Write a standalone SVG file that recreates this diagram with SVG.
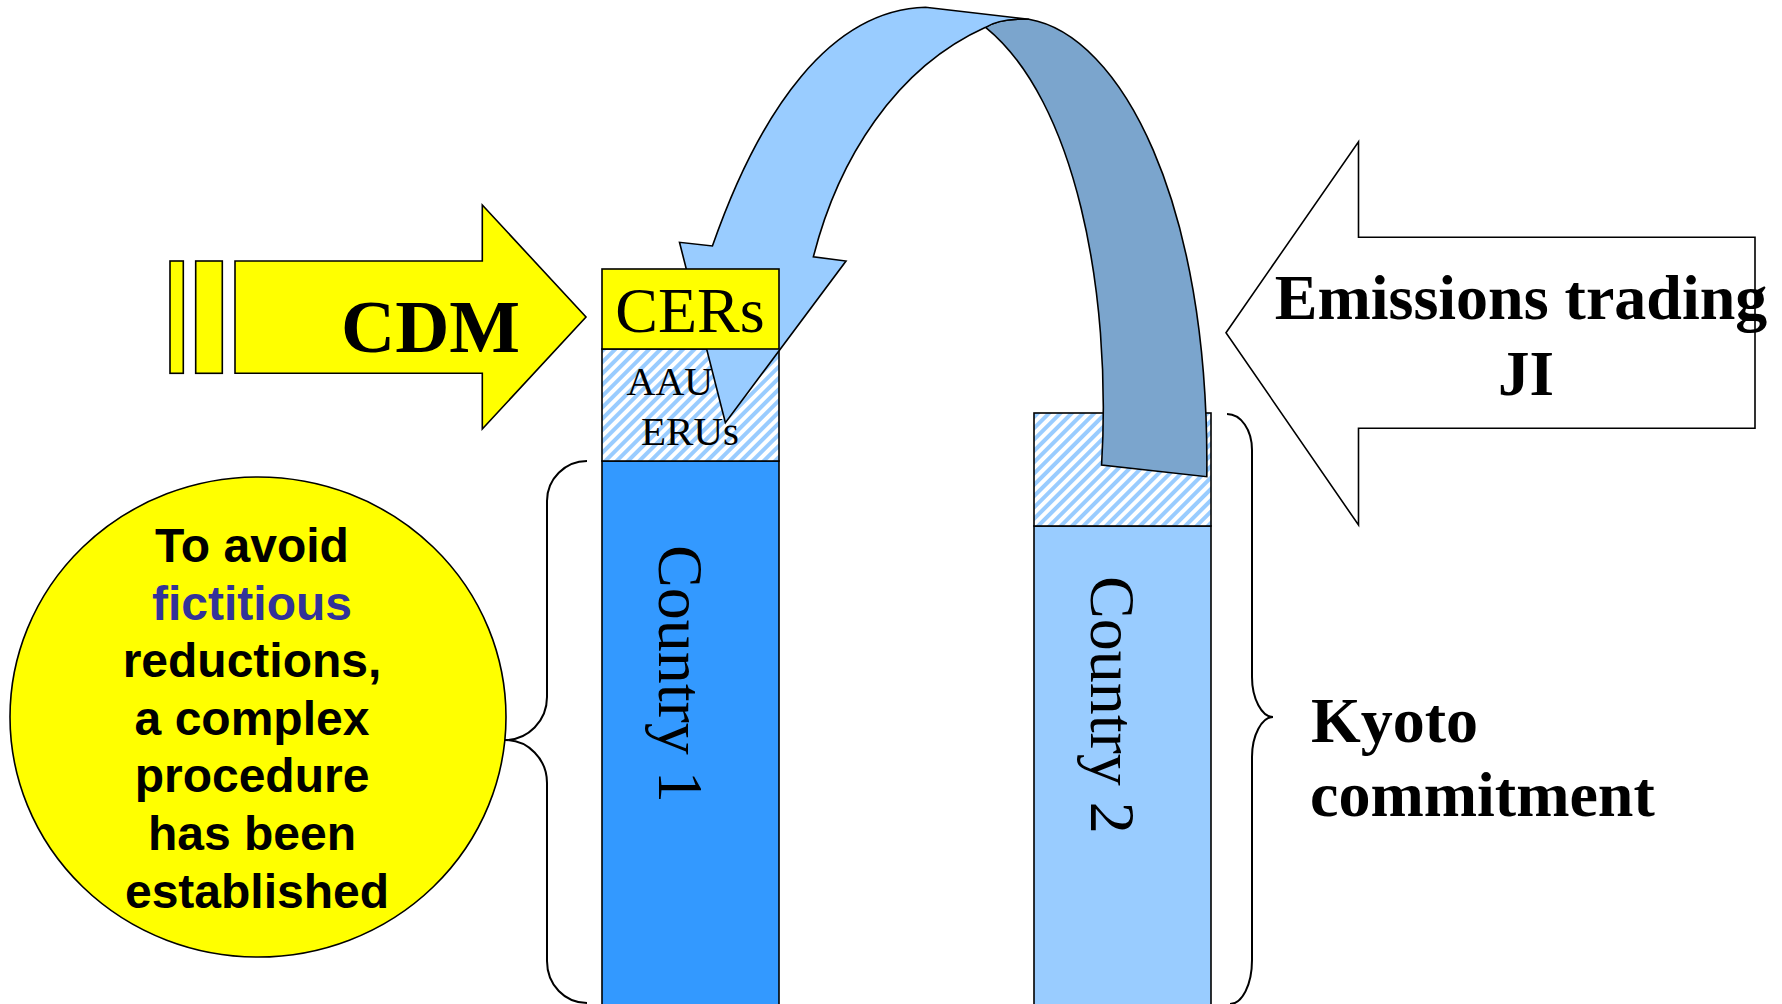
<svg xmlns="http://www.w3.org/2000/svg" width="1782" height="1004" viewBox="0 0 1782 1004">
<defs>
<pattern id="hatch" width="8" height="8" patternUnits="userSpaceOnUse" patternTransform="rotate(45)">
<rect width="8" height="8" fill="#ffffff"/>
<rect x="0" y="0" width="4" height="8" fill="#99ccff"/>
</pattern>
<style>
.ln{stroke:#000;stroke-width:1.6;stroke-linejoin:miter}
.brace{fill:none;stroke:#000;stroke-width:2}
.serif{font-family:"Liberation Serif","Times New Roman",serif;fill:#000}
.bold{font-weight:bold}
.sans{font-family:"Liberation Sans",Arial,sans-serif;font-weight:bold;font-size:48px;fill:#000;text-anchor:middle}
</style>
</defs>
<rect width="1782" height="1004" fill="#ffffff"/>

<g id="country1">
<rect class="ln" x="602" y="461" width="177" height="560" fill="#3399ff"/>
<text class="serif" font-size="64" transform="translate(659,545) rotate(90)">Country 1</text>
</g>
<g id="aau1">
<rect class="ln" x="602" y="349" width="177" height="112" fill="url(#hatch)"/>
<text class="serif" font-size="40" x="626.5" y="395">AAU</text>
<text class="serif" font-size="41" x="641" y="445">ERUs</text>
</g>

<g id="country2">
<rect class="ln" x="1034" y="526" width="177" height="500" fill="#99ccff"/>
<text class="serif" font-size="64" transform="translate(1091,576) rotate(90)">Country 2</text>
</g>
<g id="aau2">
<rect class="ln" x="1034" y="413" width="177" height="113" fill="url(#hatch)"/>
</g>

<g id="braces">
<path class="brace" d="M587,461 C565,461 547,479 547,501 L547,697 C547,721 528,740 505,740 C528,740 547,759 547,783 L547,961 C547,985 565,1003 587,1003"/>
<path class="brace" d="M1227,414 C1241,414 1252,430 1252,450 L1252,677 C1252,699 1262,717 1273,717 C1262,717 1252,735 1252,757 L1252,960 C1252,985 1242,1004 1230,1004"/>
</g>

<g id="circle">
<ellipse class="ln" cx="258" cy="717" rx="248" ry="240" fill="#ffff00" stroke-width="2"/>
<text class="sans" x="252" y="561.5">To avoid</text>
<text class="sans" x="252" y="619.5" style="fill:#333399">fictitious</text>
<text class="sans" x="252" y="677">reductions,</text>
<text class="sans" x="252" y="734.5">a complex</text>
<text class="sans" x="252" y="792">procedure</text>
<text class="sans" x="252" y="850">has been</text>
<text class="sans" x="257" y="908">established</text>
</g>

<g id="cdm">
<rect class="ln" x="170" y="261" width="13.3" height="112.3" fill="#ffff00"/>
<rect class="ln" x="195.7" y="261" width="26.6" height="112.3" fill="#ffff00"/>
<path class="ln" d="M235,261 L482.3,261 L482.3,205 L586,317 L482.3,429 L482.3,373.3 L235,373.3 Z" fill="#ffff00"/>
<text class="serif bold" font-size="75" x="341" y="351.5">CDM</text>
</g>

<g id="connectors">
<path class="ln" fill="#7ba5cd" d="M1028.9,19.3 C1120,35 1210,200 1206.8,476.7 L1101.6,465 C1112,290 1075,100 985.6,27.3 Q1000,18 1028.9,19.3 Z"/>
<path class="ln" fill="#99ccff" d="M725.4,422.7 L679.5,242.3 L712.4,246 C760,110 830,10 925.5,7.3 L1028.9,19.3 Q1000,18 985.6,27.3 C895,68 838,160 813.4,256.7 L846,261 Z"/>
</g>

<g id="cers">
<rect class="ln" x="602" y="269" width="177" height="80" fill="#ffff00"/>
<text class="serif" font-size="64" x="690" y="331.5" text-anchor="middle">CERs</text>
</g>

<g id="trading">
<path class="ln" fill="#ffffff" d="M1226,332.7 L1358.5,141.7 L1358.5,237.3 L1755,237.3 L1755,428.3 L1358.5,428.3 L1358.5,525 Z"/>
<text class="serif bold" font-size="64" x="1521" y="318.5" text-anchor="middle">Emissions trading</text>
<text class="serif bold" font-size="63" x="1526" y="395" text-anchor="middle">JI</text>
</g>

<g id="kyoto">
<text class="serif bold" font-size="64" x="1311" y="741.5">Kyoto</text>
<text class="serif bold" font-size="64" x="1310" y="816">commitment</text>
</g>
</svg>
